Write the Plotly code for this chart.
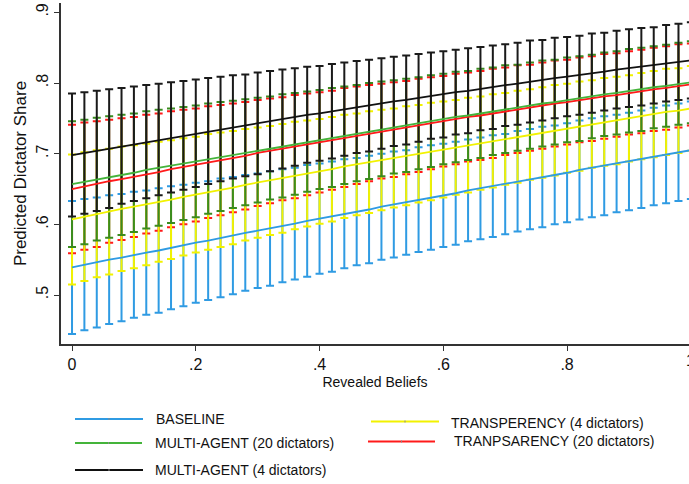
import plotly.graph_objects as go

revealed_beliefs = [0.00, 0.02, 0.04, 0.06, 0.08, 0.10, 0.12, 0.14, 0.16, 0.18,
                    0.20, 0.22, 0.24, 0.26, 0.28, 0.30, 0.32, 0.34, 0.36, 0.38,
                    0.40, 0.42, 0.44, 0.46, 0.48, 0.50, 0.52, 0.54, 0.56, 0.58,
                    0.60, 0.62, 0.64, 0.66, 0.68, 0.70, 0.72, 0.74, 0.76, 0.78,
                    0.80, 0.82, 0.84, 0.86, 0.88, 0.90, 0.92, 0.94, 0.96, 0.98, 1.00]

# predicted share (centre line) and half-width of the confidence interval
baseline_pred = [0.539, 0.543, 0.546, 0.550, 0.553, 0.557, 0.560, 0.563, 0.567, 0.570,
                 0.574, 0.577, 0.581, 0.584, 0.588, 0.591, 0.594, 0.598, 0.601, 0.605,
                 0.608, 0.611, 0.615, 0.618, 0.621, 0.625, 0.628, 0.631, 0.635, 0.638,
                 0.641, 0.644, 0.648, 0.651, 0.654, 0.657, 0.661, 0.664, 0.667, 0.670,
                 0.673, 0.677, 0.680, 0.683, 0.686, 0.689, 0.692, 0.696, 0.699, 0.702, 0.705]
baseline_ci = [0.094, 0.093, 0.092, 0.091, 0.090, 0.089, 0.088, 0.088, 0.087, 0.086,
               0.085, 0.084, 0.084, 0.083, 0.082, 0.081, 0.081, 0.080, 0.079, 0.079,
               0.078, 0.078, 0.077, 0.076, 0.076, 0.075, 0.075, 0.074, 0.074, 0.074,
               0.073, 0.073, 0.072, 0.072, 0.072, 0.071, 0.071, 0.071, 0.071, 0.070,
               0.070, 0.070, 0.070, 0.070, 0.069, 0.069, 0.069, 0.069, 0.069, 0.069, 0.069]

multi20_pred = [0.657, 0.660, 0.664, 0.667, 0.670, 0.673, 0.677, 0.680, 0.683, 0.686,
                0.689, 0.693, 0.696, 0.699, 0.702, 0.705, 0.708, 0.711, 0.714, 0.717,
                0.720, 0.723, 0.726, 0.729, 0.732, 0.735, 0.738, 0.740, 0.743, 0.746,
                0.749, 0.752, 0.754, 0.757, 0.760, 0.763, 0.765, 0.768, 0.771, 0.773,
                0.776, 0.778, 0.781, 0.784, 0.786, 0.789, 0.791, 0.794, 0.796, 0.799, 0.801]
multi20_ci = [0.089, 0.088, 0.087, 0.086, 0.085, 0.084, 0.083, 0.082, 0.081, 0.080,
              0.079, 0.078, 0.077, 0.076, 0.075, 0.074, 0.073, 0.073, 0.072, 0.071,
              0.070, 0.070, 0.069, 0.068, 0.068, 0.067, 0.066, 0.066, 0.065, 0.065,
              0.064, 0.064, 0.063, 0.063, 0.062, 0.062, 0.061, 0.061, 0.061, 0.060,
              0.060, 0.060, 0.059, 0.059, 0.059, 0.059, 0.059, 0.058, 0.058, 0.058, 0.058]

multi4_pred = [0.698, 0.701, 0.704, 0.707, 0.711, 0.714, 0.717, 0.720, 0.723, 0.726,
               0.729, 0.732, 0.735, 0.738, 0.740, 0.743, 0.746, 0.749, 0.752, 0.755,
               0.757, 0.760, 0.763, 0.766, 0.768, 0.771, 0.774, 0.776, 0.779, 0.782,
               0.784, 0.787, 0.789, 0.792, 0.794, 0.797, 0.799, 0.802, 0.804, 0.807,
               0.809, 0.811, 0.814, 0.816, 0.819, 0.821, 0.823, 0.825, 0.828, 0.830, 0.832]
multi4_ci = [0.087, 0.086, 0.085, 0.084, 0.082, 0.081, 0.080, 0.079, 0.078, 0.077,
             0.076, 0.075, 0.074, 0.073, 0.072, 0.072, 0.071, 0.070, 0.069, 0.068,
             0.067, 0.067, 0.066, 0.065, 0.065, 0.064, 0.063, 0.063, 0.062, 0.061,
             0.061, 0.060, 0.060, 0.059, 0.059, 0.058, 0.058, 0.058, 0.057, 0.057,
             0.056, 0.056, 0.056, 0.055, 0.055, 0.055, 0.055, 0.054, 0.054, 0.054, 0.054]

trans4_pred = [0.607, 0.611, 0.615, 0.618, 0.622, 0.625, 0.628, 0.632, 0.635, 0.639,
               0.642, 0.646, 0.649, 0.652, 0.656, 0.659, 0.662, 0.665, 0.669, 0.672,
               0.675, 0.678, 0.682, 0.685, 0.688, 0.691, 0.694, 0.697, 0.700, 0.703,
               0.706, 0.709, 0.712, 0.715, 0.718, 0.721, 0.724, 0.727, 0.730, 0.733,
               0.736, 0.739, 0.742, 0.745, 0.747, 0.750, 0.753, 0.756, 0.759, 0.761, 0.764]
trans4_ci = [0.092, 0.091, 0.090, 0.089, 0.088, 0.087, 0.086, 0.085, 0.084, 0.083,
             0.082, 0.082, 0.081, 0.080, 0.079, 0.078, 0.077, 0.077, 0.076, 0.075,
             0.074, 0.074, 0.073, 0.072, 0.072, 0.071, 0.070, 0.070, 0.069, 0.069,
             0.068, 0.067, 0.067, 0.066, 0.066, 0.065, 0.065, 0.064, 0.064, 0.064,
             0.063, 0.063, 0.062, 0.062, 0.062, 0.061, 0.061, 0.061, 0.061, 0.060, 0.060]

trans20_pred = [0.650, 0.654, 0.657, 0.661, 0.664, 0.667, 0.671, 0.674, 0.678, 0.681,
                0.684, 0.688, 0.691, 0.694, 0.697, 0.701, 0.704, 0.707, 0.710, 0.713,
                0.716, 0.719, 0.723, 0.726, 0.729, 0.732, 0.734, 0.737, 0.740, 0.743,
                0.746, 0.749, 0.752, 0.754, 0.757, 0.760, 0.763, 0.765, 0.768, 0.771,
                0.773, 0.776, 0.778, 0.781, 0.783, 0.786, 0.788, 0.791, 0.793, 0.796, 0.798]
trans20_ci = [0.091, 0.090, 0.089, 0.087, 0.086, 0.085, 0.084, 0.083, 0.082, 0.081,
              0.080, 0.079, 0.078, 0.077, 0.076, 0.075, 0.074, 0.073, 0.073, 0.072,
              0.071, 0.070, 0.070, 0.069, 0.068, 0.067, 0.067, 0.066, 0.066, 0.065,
              0.064, 0.064, 0.063, 0.063, 0.063, 0.062, 0.062, 0.061, 0.061, 0.061,
              0.060, 0.060, 0.060, 0.060, 0.059, 0.059, 0.059, 0.059, 0.059, 0.059, 0.058]

x_tickvals = [0, 0.2, 0.4, 0.6, 0.8]
x_ticktext = ["0", ".2", ".4", ".6", ".8"]
y_tickvals = [0.5, 0.6, 0.7, 0.8, 0.9]
y_ticktext = [".5", ".6", ".7", ".8", ".9"]

FONT = "Liberation Sans, Arial, Helvetica, sans-serif"

W, H = 689, 484
ML, MR, MT, MB = 61, 0, 3, 140
PW, PH = W - ML - MR, H - MT - MB

# drawing order (bottom -> top): name, pred, ci, line colour, bar colour
series = [
    ("BASELINE", baseline_pred, baseline_ci, "#2f9be3", "#2f9be3"),
    ("TRANPSARENCY (20 dictators)", trans20_pred, trans20_ci, "#ff1a1a", "#ff1a1a"),
    ("TRANSPERENCY (4 dictators)", trans4_pred, trans4_ci, "#f2f200", "#f2f200"),
    ("MULTI-AGENT (20 dictators)", multi20_pred, multi20_ci, "#44b43a", "#3a8c1e"),
    ("MULTI-AGENT (4 dictators)", multi4_pred, multi4_ci, "#111111", "#1a1a1a"),
]

# legend key placement in pixels: line x0, line x1, line y, text x, text y
legend_layout = {
    "BASELINE": (75, 143, 419, 154, 419),
    "MULTI-AGENT (20 dictators)": (75, 142, 443, 153, 443),
    "MULTI-AGENT (4 dictators)": (75, 143, 470, 153, 470),
    "TRANSPERENCY (4 dictators)": (371, 439, 421.5, 449, 423),
    "TRANPSARENCY (20 dictators)": (368, 435, 441.5, 452, 441),
}

def px_x(p):
    return (p - ML) / PW

def px_y(p):
    return (H - MB - p) / PH

fig = go.Figure()

for name, pred, ci, lc, bc in series:
    fig.add_trace(go.Scatter(
        x=revealed_beliefs, y=pred, mode="markers",
        marker=dict(size=0, opacity=0, color=bc),
        error_y=dict(type="data", array=ci, symmetric=True, color=bc,
                     thickness=2, width=4),
        showlegend=False, hoverinfo="skip", cliponaxis=True,
    ))

for name, pred, ci, lc, bc in series:
    fig.add_trace(go.Scatter(
        x=revealed_beliefs, y=pred, mode="lines", name=name,
        line=dict(color=lc, width=1.8), showlegend=False,
    ))

shapes = []
annotations = []
for name, pred, ci, lc, bc in series:
    x0, x1, ly, tx, ty = legend_layout[name]
    shapes.append(dict(type="line", xref="paper", yref="paper",
                       x0=px_x(x0), x1=px_x(x1), y0=px_y(ly), y1=px_y(ly),
                       line=dict(color=lc, width=2)))
    shapes.append(dict(type="line", xref="paper", yref="paper",
                       x0=px_x((x0 + x1) / 2), x1=px_x((x0 + x1) / 2),
                       y0=px_y(ly - 1), y1=px_y(ly + 1),
                       line=dict(color="#888888", width=1)))
    annotations.append(dict(text=name, xref="paper", yref="paper",
                            x=px_x(tx), y=px_y(ty), xanchor="left", yanchor="middle",
                            showarrow=False,
                            font=dict(size=14, family=FONT, color="#111111")))

annotations.append(dict(
    text="1", xref="paper", yref="paper", x=1.0028, y=0, yshift=-6,
    xanchor="center", yanchor="top", showarrow=False,
    font=dict(size=16, family=FONT, color="#111111"),
))

fig.update_layout(
    width=W, height=H,
    margin=dict(l=ML, r=MR, t=MT, b=MB),
    paper_bgcolor="white", plot_bgcolor="white",
    font=dict(family=FONT, color="#111111", size=13),
    showlegend=False,
    xaxis=dict(
        range=[-0.0178, 0.997],
        tickvals=x_tickvals, ticktext=x_ticktext,
        showgrid=False, zeroline=False,
        showline=True, linecolor="#333333", linewidth=1.5,
        ticks="outside", ticklen=5, tickcolor="#333333", tickwidth=1,
        tickfont=dict(size=16, family=FONT),
        title=dict(text="Revealed Beliefs", font=dict(size=14, family=FONT), standoff=5),
    ),
    yaxis=dict(
        range=[0.4307, 0.9132],
        tickvals=y_tickvals, ticktext=y_ticktext,
        tickangle=-90,
        showgrid=False, zeroline=False,
        showline=True, linecolor="#333333", linewidth=1.5,
        ticks="outside", ticklen=5, tickcolor="#333333", tickwidth=1,
        tickfont=dict(size=16, family=FONT),
        title=dict(text="Predicted Dictator Share", font=dict(size=17, family=FONT), standoff=3),
    ),
    shapes=shapes,
    annotations=annotations,
)

fig.write_html("out.html")
